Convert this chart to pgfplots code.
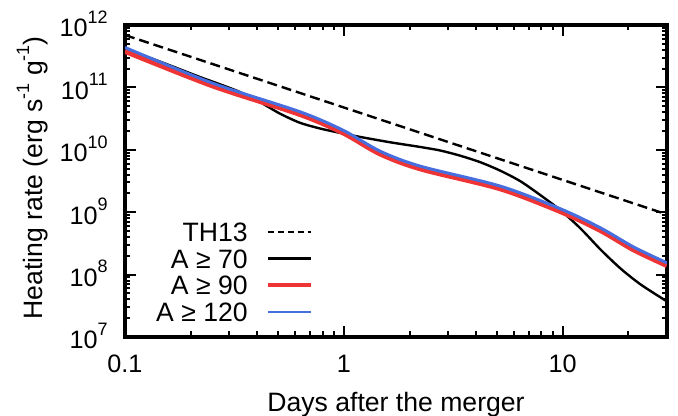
\documentclass[border=0pt]{standalone}
\usepackage{fontspec}
\setmainfont{Liberation Sans}
\usepackage{pgfplots}
\pgfplotsset{compat=1.18}

\definecolor{hred}{RGB}{238,52,52}
\definecolor{hblue}{RGB}{70,110,222}

% power-of-ten tick label with a raised exponent
\newcommand\pten[1]{10\raisebox{6.8pt}{\fontsize{9}{9}\selectfont #1}}
\newcommand\unitexp[1]{\raisebox{6.5pt}{\fontsize{9}{9}\selectfont #1}}

\begin{document}
\begin{tikzpicture}
\begin{axis}[
  name=ax,
  scale only axis,
  width=271pt, height=156pt,
  xmode=log, ymode=log,
  xmin=0.1, xmax=30,
  ymin=1e7, ymax=1e12,
  font=\fontsize{13.3}{15}\selectfont,
  xtick={0.1,1,10},
  xticklabels={0.1,1,10},
  minor xtick={0.2,0.3,0.4,0.5,0.6,0.7,0.8,0.9,2,3,4,5,6,7,8,9,20,30},
  ytick={1e7,1e8,1e9,1e10,1e11,1e12},
  yticklabels={\pten{7},\pten{8},\pten{9},\pten{10},\pten{11},\pten{12}},
  minor ytick={2e7,3e7,4e7,5e7,6e7,7e7,8e7,9e7,
               2e8,3e8,4e8,5e8,6e8,7e8,8e8,9e8,
               2e9,3e9,4e9,5e9,6e9,7e9,8e9,9e9,
               2e10,3e10,4e10,5e10,6e10,7e10,8e10,9e10,
               2e11,3e11,4e11,5e11,6e11,7e11,8e11,9e11},
  xticklabel style={anchor=base, inner sep=0pt, yshift=-18pt,
    font=\fontsize{12.6}{14}\selectfont},
  yticklabel style={anchor=base east, inner sep=0pt, xshift=-8.5pt, yshift=-6pt,
    font=\fontsize{12.6}{14}\selectfont},
  tick align=inside,
  major tick length=5.5pt,
  minor tick length=2.75pt,
  every tick/.style={black, line width=1pt},
  axis line style={line width=1.8pt},
  xlabel={Days after the merger},
  xlabel style={at={(axis description cs:0.5,0)}, anchor=base, yshift=-37.3pt},
  ylabel={Heating rate (erg s\unitexp{-1} g\unitexp{-1})},
  ylabel style={at={(axis description cs:-0.153,0.51)}, rotate=0, anchor=base},
  legend cell align=right,
  legend plot pos=right,
  legend style={draw=none, fill=none, at={(axis description cs:0.347,0.049)},
    anchor=south east, font=\fontsize{13.3}{15}\selectfont,
    inner sep=0pt, row sep=3.7pt, column sep=9pt,
    nodes={inner sep=0pt, text height=9.6pt, text depth=0pt}},
  legend image code/.code={\draw[#1] (0pt,0pt) -- (21.5pt,0pt);},
]
% TH13 power law
\addplot[black, line width=1.2pt, dash pattern=on 5pt off 2.5pt, forget plot] coordinates {
  (0.1,6.9e11) (30,9.2e8)
};
% A >= 70
\addplot[black, line width=1.2pt, smooth, tension=0.45, forget plot] coordinates {
  (0.1,4.12e11) (0.1288,3.01e11) (0.1678,2.12e11) (0.2185,1.48e11) (0.2699,1.13e11)
  (0.3334,8.50e10) (0.4118,5.87e10) (0.5085,3.83e10) (0.6283,2.72e10) (0.7761,2.20e10)
  (0.9587,1.87e10) (1.184,1.61e10) (1.626,1.32e10) (2.232,1.11e10) (2.757,9.74e9)
  (3.405,8.04e9) (4.206,6.32e9) (5.195,4.62e9) (6.417,3.13e9) (7.927,1.87e9)
  (9.791,1.07e9) (12.09,5.46e8) (14.94,2.50e8) (18.45,1.24e8) (22.79,6.90e7)
  (30,3.71e7)
};
% A >= 90
\addplot[hred, line width=2.8pt, smooth, tension=0.5, forget plot] coordinates {
  (0.1,3.83e11) (0.2512,1.07e11) (0.631,3.72e10) (1,1.86e10) (1.462,8.73e9)
  (2.234,5.01e9) (5.20,2.39e9) (9.795,1.03e9) (14.93,5.12e8) (21.18,2.51e8)
  (30,1.41e8)
};
% A >= 120
\addplot[hblue, line width=1.5pt, smooth, tension=0.5, forget plot] coordinates {
  (0.1,4.36e11) (0.2512,1.17e11) (0.631,4.06e10) (1,2.03e10) (1.462,9.53e9)
  (2.234,5.47e9) (5.20,2.61e9) (9.795,1.13e9) (14.93,5.58e8) (21.18,2.75e8)
  (30,1.54e8)
};
\addlegendimage{black, line width=1pt, dash pattern=on 3.3pt off 1.7pt}
\addlegendentry{TH13}
\addlegendimage{black, line width=1.15pt}
\addlegendentry{A ≥ 70}
\addlegendimage{hred, line width=2pt}
\addlegendentry{A ≥ 90}
\addlegendimage{hblue, line width=1.15pt}
\addlegendentry{A ≥ 120}
\end{axis}
\pgfresetboundingbox
\path ([xshift=-62.5pt,yshift=-39.5pt]ax.south west) rectangle ([xshift=5.5pt,yshift=12.5pt]ax.north east);
\end{tikzpicture}
\end{document}
